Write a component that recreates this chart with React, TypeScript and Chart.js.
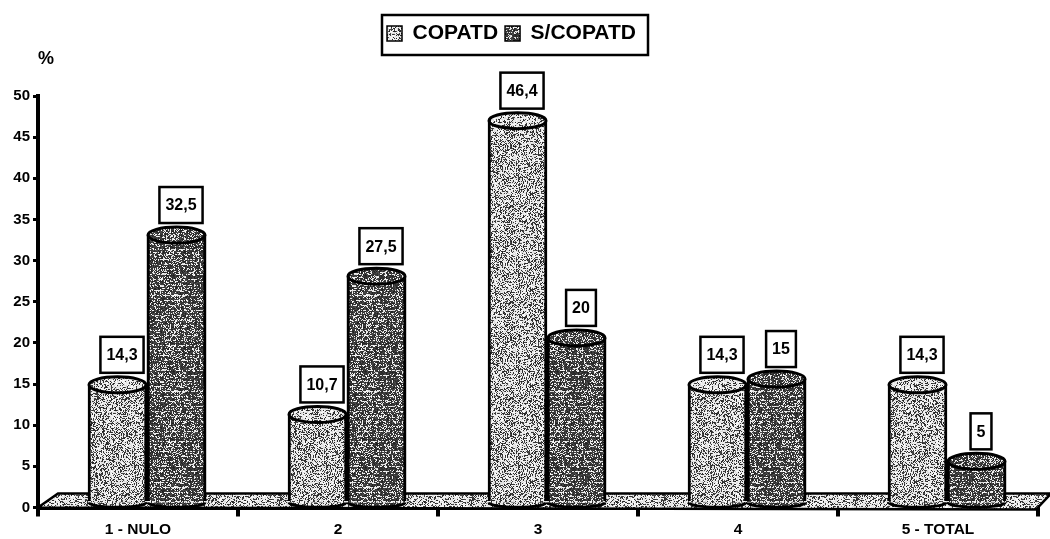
import React, { useEffect, useRef } from "react";
import { Chart, registerables } from "chart.js";

Chart.register(...registerables);

const categories = ["1 - NULO", "2", "3", "4", "5 - TOTAL"];
const copatd = [14.3, 10.7, 46.4, 14.3, 14.3];
const semCopatd = [32.5, 27.5, 20, 15, 5];
const seriesNames = ["COPATD", "S/COPATD"];
const unitLabel = "%";
const FONT = "'Liberation Sans', Arial, sans-serif";

function makePattern(darkShare: number, streak: number) {
  const size = 96;
  const c = document.createElement("canvas");
  c.width = size;
  c.height = size;
  const g = c.getContext("2d")!;
  const img = g.createImageData(size, size);
  let seed = 12345;
  const next = () => {
    seed = (seed * 1103515245 + 12345) & 0x7fffffff;
    return (seed >> 8) / 0x7fffff;
  };
  for (let y = 0; y < size; y++) {
    const rowLight = y % 5 === 2 ? streak : 0;
    for (let x = 0; x < size; x++) {
      const dark = next() < darkShare - rowLight;
      const v = dark ? 30 + next() * 50 : 215 + next() * 40;
      const i = (y * size + x) * 4;
      img.data[i] = img.data[i + 1] = img.data[i + 2] = v;
      img.data[i + 3] = 255;
    }
  }
  g.putImageData(img, 0, 0);
  return g.createPattern(c, "repeat")!;
}

const DX = 9;
const DY = -5;
const RY = 8;

function cylinders(lightCap: CanvasPattern, darkCap: CanvasPattern, floor: CanvasPattern) {
  const ends = (chart: any, index: number) => {
    const { ctx, scales } = chart;
    const y0 = scales.y.getPixelForValue(0);
    const cap = index === 0 ? lightCap : darkCap;
    const body = chart.data.datasets[index].backgroundColor;
    chart.getDatasetMeta(index).data.forEach((bar: any) => {
      const rx = bar.width / 2 - 1;
      ctx.lineWidth = 3;
      ctx.strokeStyle = "#000";
      ctx.beginPath();
      ctx.ellipse(bar.x, y0, rx, RY * 0.6, 0, 0, Math.PI);
      ctx.fillStyle = body;
      ctx.fill();
      ctx.stroke();
      ctx.beginPath();
      ctx.ellipse(bar.x, bar.y, rx, RY, 0, 0, Math.PI * 2);
      ctx.fillStyle = cap;
      ctx.fill();
      ctx.stroke();
    });
  };
  return {
    id: "cylinders",
    beforeDatasetsDraw(chart: any) {
      const { ctx, scales } = chart;
      const y0 = scales.y.getPixelForValue(0);
      const { left, right } = chart.chartArea;
      ctx.save();
      ctx.beginPath();
      ctx.moveTo(left, y0);
      ctx.lineTo(left + 20, y0 - 14);
      ctx.lineTo(right + 13, y0 - 14);
      ctx.lineTo(right - 2, y0 + 2);
      ctx.closePath();
      ctx.fillStyle = floor;
      ctx.fill();
      ctx.lineWidth = 2.5;
      ctx.strokeStyle = "#000";
      ctx.stroke();
      ctx.restore();
    },
    beforeDatasetDraw(chart: any) {
      chart.ctx.save();
      chart.ctx.translate(DX, DY);
    },
    afterDatasetDraw(chart: any, args: any) {
      const { ctx } = chart;
      if (args.index === 0) {
        // the right-hand series sits in front of the left-hand one
        ends(chart, 0);
        chart.getDatasetMeta(1).data.forEach((bar: any) => bar.draw(ctx));
        ends(chart, 1);
      }
      ctx.restore();
    },
    afterDatasetsDraw(chart: any) {
      const { ctx } = chart;
      ctx.save();
      ctx.font = `bold 16px ${FONT}`;
      ctx.textAlign = "center";
      ctx.textBaseline = "middle";
      chart.data.datasets.forEach((ds: any, di: number) => {
        chart.getDatasetMeta(di).data.forEach((bar: any, i: number) => {
          const text = String(ds.data[i]).replace(".", ",");
          const w = ctx.measureText(text).width + 12;
          const h = 36;
          const cx = bar.x + DX + 4.5;
          const bottom = bar.y + DY - RY - 4;
          ctx.fillStyle = "#fff";
          ctx.strokeStyle = "#000";
          ctx.lineWidth = 2.5;
          ctx.fillRect(cx - w / 2, bottom - h, w, h);
          ctx.strokeRect(cx - w / 2, bottom - h, w, h);
          ctx.fillStyle = "#000";
          ctx.fillText(text, cx, bottom - h / 2 + 1);
        });
      });
      ctx.font = `bold 18px ${FONT}`;
      ctx.textAlign = "center";
      ctx.fillText(unitLabel, 46, 59);
      ctx.restore();
    },
  };
}

const legendFrame = {
  id: "legendFrame",
  beforeDraw(chart: any) {
    chart.legend.left = 380;
    chart.legend.top = 16;
  },
  afterDraw(chart: any) {
    const { ctx } = chart;
    ctx.save();
    ctx.strokeStyle = "#000";
    ctx.lineWidth = 2.5;
    ctx.strokeRect(382, 15, 266, 40);
    ctx.restore();
  },
};

export default function App() {
  const ref = useRef<HTMLCanvasElement>(null);
  useEffect(() => {
    const light = makePattern(0.36, 0);
    const dark = makePattern(0.78, 0.3);
    const lightCap = makePattern(0.28, 0);
    const darkCap = makePattern(0.7, 0.1);
    const floor = makePattern(0.3, 0);
    const chart = new Chart(ref.current!, {
      type: "bar",
      data: {
        labels: categories,
        datasets: [
          { label: seriesNames[0], data: copatd, backgroundColor: light },
          { label: seriesNames[1], data: semCopatd, backgroundColor: dark },
        ].map((d) => ({
          ...d,
          barThickness: 59,
          borderColor: "#000",
          borderWidth: { left: 3, right: 3, top: 0, bottom: 0 },
          borderSkipped: false,
          clip: false,
        })) as any,
      },
      options: {
        animation: false,
        responsive: false,
        events: [],
        layout: { padding: { left: 0, right: 12, top: 58, bottom: 0 } },
        plugins: {
          tooltip: { enabled: false },
          legend: {
            position: "top",
            align: "start",
            labels: {
              font: { family: FONT, size: 21, weight: "bold" },
              color: "#000",
              boxWidth: 15,
              boxHeight: 15,
              padding: 7,
            },
          },
        },
        scales: {
          x: {
            afterFit: (s: any) => { s.height = 31.5; },
            grid: { drawOnChartArea: false, color: "#000", lineWidth: 4, tickLength: 9 },
            border: { color: "#000", width: 4 },
            ticks: { color: "#000", font: { family: FONT, size: 15.5, weight: "bold" }, padding: 4, maxRotation: 0 },
          },
          y: {
            min: 0,
            max: 50,
            afterFit: (s: any) => { s.width = 38; },
            grid: { drawOnChartArea: false, color: "#000", lineWidth: 3, tickLength: 5 },
            border: { color: "#000", width: 4 },
            ticks: { stepSize: 5, color: "#000", font: { family: FONT, size: 15, weight: "bold" }, padding: 3 },
          },
        },
      } as any,
      plugins: [cylinders(lightCap, darkCap, floor), legendFrame],
    });
    return () => chart.destroy();
  }, []);
  return (
    <canvas
      ref={ref}
      width={1050}
      height={539}
      style={{ position: "fixed", left: 0, top: 0, width: 1050, height: 539, background: "#fff" }}
    />
  );
}
